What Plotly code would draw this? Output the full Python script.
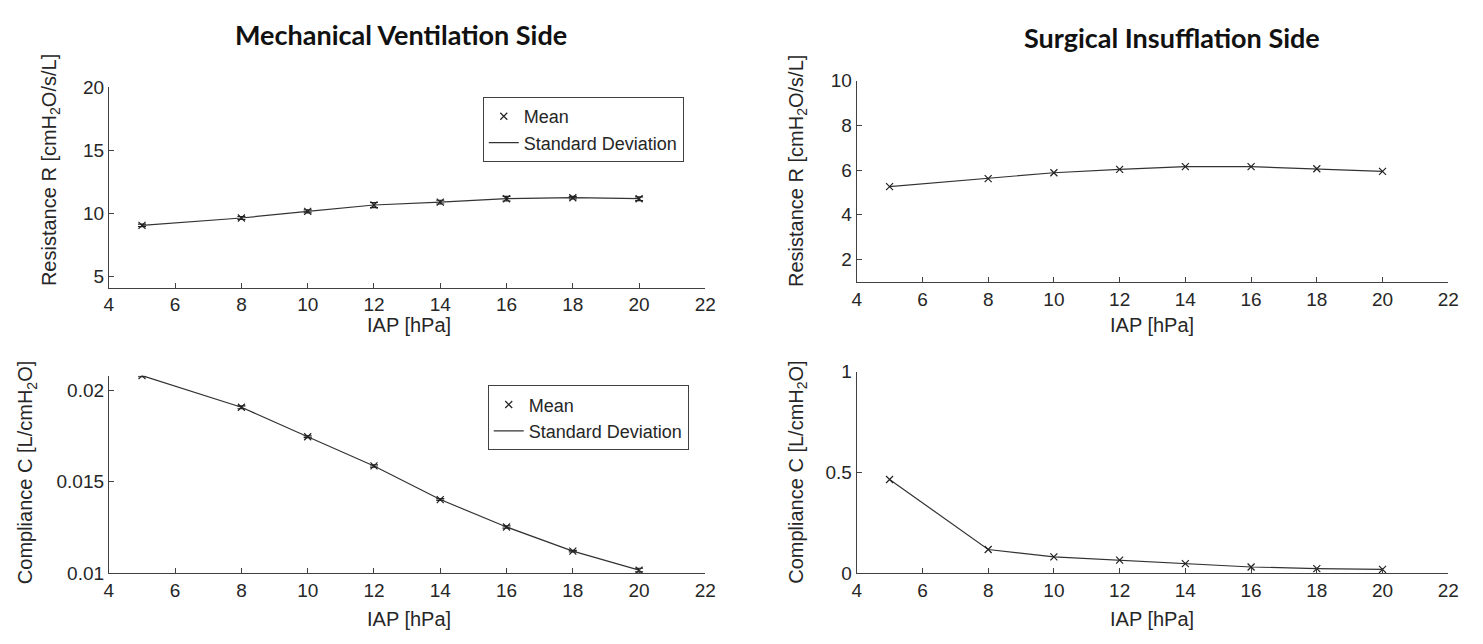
import plotly.graph_objects as go

# ---------------- data ----------------
iap = [5, 8, 10, 12, 14, 16, 18, 20]

mv_resistance = [9.05, 9.63, 10.16, 10.66, 10.89, 11.16, 11.24, 11.16]
mv_resistance_sd = [0.10, 0.12, 0.12, 0.20, 0.15, 0.18, 0.10, 0.15]

mv_compliance = [0.0208, 0.01907, 0.01746, 0.01586, 0.01402, 0.01252, 0.0112, 0.01016]
mv_compliance_sd = [0.00006, 0.00008, 0.00005, 0.00006, 0.00005, 0.00006, 0.00004, 0.0001]

si_resistance = [5.26, 5.62, 5.88, 6.03, 6.15, 6.15, 6.06, 5.94]
si_compliance = [0.465, 0.117, 0.080, 0.064, 0.047, 0.030, 0.022, 0.018]

x_ticks = [4, 6, 8, 10, 12, 14, 16, 18, 20, 22]
tl_yticks = [5, 10, 15, 20]
tr_yticks = [2, 4, 6, 8, 10]
bl_yticks = [0.01, 0.015, 0.02]
bl_yticklabels = ["0.01", "0.015", "0.02"]
br_yticks = [0, 0.5, 1]
br_yticklabels = ["0", "0.5", "1"]

# ---------------- layout helpers ----------------
W, H = 1483, 644
AX = "#404040"
TXT = "#262626"
LINE = "#333333"
FAM = "Liberation Sans, Arial, sans-serif"
TICKFONT = dict(family=FAM, size=19, color=TXT)


def px_x(p):
    return p / W


def px_y(p):
    return 1 - p / H


fig = go.Figure()

marker_style = dict(symbol="x-thin", size=7, line=dict(width=1.2, color="#222222"), color="#222222")

# Top-left: MV resistance
fig.add_trace(go.Scatter(
    x=iap, y=mv_resistance, mode="lines", name="Standard Deviation",
    line=dict(color=LINE, width=1.2),
    error_y=dict(type="data", array=mv_resistance_sd, visible=True, color="#222222", thickness=1.2, width=4),
    xaxis="x", yaxis="y", legend="legend", legendrank=2))
fig.add_trace(go.Scatter(
    x=iap, y=mv_resistance, mode="markers", name="Mean", marker=marker_style,
    xaxis="x", yaxis="y", legend="legend", legendrank=1))

# Top-right: SI resistance
fig.add_trace(go.Scatter(
    x=iap, y=si_resistance, mode="lines+markers", showlegend=False,
    line=dict(color=LINE, width=1.2), marker=marker_style,
    xaxis="x2", yaxis="y2"))

# Bottom-left: MV compliance
fig.add_trace(go.Scatter(
    x=iap, y=mv_compliance, mode="lines", name="Standard Deviation",
    line=dict(color=LINE, width=1.2),
    error_y=dict(type="data", array=mv_compliance_sd, visible=True, color="#222222", thickness=1.2, width=4),
    xaxis="x3", yaxis="y3", legend="legend2", legendrank=2))
fig.add_trace(go.Scatter(
    x=iap, y=mv_compliance, mode="markers", name="Mean", marker=marker_style,
    xaxis="x3", yaxis="y3", legend="legend2", legendrank=1))

# Bottom-right: SI compliance
fig.add_trace(go.Scatter(
    x=iap, y=si_compliance, mode="lines+markers", showlegend=False,
    line=dict(color=LINE, width=1.2), marker=marker_style,
    xaxis="x4", yaxis="y4"))


def xaxis(domain, anchor):
    return dict(domain=domain, anchor=anchor, range=[4, 22], tickvals=x_ticks,
                ticks="inside", ticklen=5, tickcolor=AX, showline=True, linecolor=AX,
                linewidth=1, showgrid=False, zeroline=False, tickfont=TICKFONT, mirror=False)


def yaxis(domain, anchor, rng, tickvals, ticktext=None):
    d = dict(domain=domain, anchor=anchor, range=rng, tickvals=tickvals,
             ticks="inside", ticklen=5, tickcolor=AX, showline=True, linecolor=AX,
             linewidth=1, showgrid=False, zeroline=False, tickfont=TICKFONT, mirror=False)
    if ticktext is not None:
        d["ticktext"] = ticktext
    return d


left_x = [px_x(105), px_x(708)]
right_x = [px_x(861), px_x(1459)]

legend_common = dict(xanchor="left", yanchor="top",
                     bordercolor=AX, borderwidth=1, bgcolor="white",
                     font=dict(family=FAM, size=18, color=TXT),
                     tracegroupgap=0, itemwidth=30)

fig.update_layout(
    width=W, height=H,
    margin=dict(l=0, r=0, t=0, b=0),
    paper_bgcolor="white", plot_bgcolor="white",
    xaxis=xaxis(left_x, "y"),
    yaxis=yaxis([px_y(287), px_y(80)], "x", [4.1, 20], tl_yticks),
    xaxis2=xaxis(right_x, "y2"),
    yaxis2=yaxis([px_y(281), px_y(73)], "x2", [1, 10], tr_yticks),
    xaxis3=xaxis(left_x, "y3"),
    yaxis3=yaxis([px_y(582), px_y(378)], "x3", [0.01, 0.0208], bl_yticks, bl_yticklabels),
    xaxis4=xaxis(right_x, "y4"),
    yaxis4=yaxis([px_y(582), px_y(374)], "x4", [0, 1], br_yticks, br_yticklabels),
    legend=dict(x=px_x(483), y=px_y(90), **legend_common),
    legend2=dict(x=px_x(488), y=px_y(388), **legend_common),
    showlegend=True,
)

ann_font = dict(family=FAM, size=20, color=TXT)
title_font = dict(family="Lato, Open Sans, sans-serif", size=27, color="#111111")

annotations = [
    dict(text="<b>Mechanical Ventilation Side</b>", x=px_x(400), y=px_y(25), font=title_font),
    dict(text="<b>Surgical Insufflation Side</b>", x=px_x(1180), y=px_y(28), font=title_font),
    dict(text="IAP [hPa]", x=px_x(408), y=px_y(326), font=ann_font),
    dict(text="IAP [hPa]", x=px_x(1160), y=px_y(326), font=ann_font),
    dict(text="IAP [hPa]", x=px_x(408), y=px_y(630), font=ann_font),
    dict(text="IAP [hPa]", x=px_x(1160), y=px_y(630), font=ann_font),
    dict(text="Resistance R [cmH<sub>2</sub>O/s/L]", x=px_x(46), y=px_y(166), textangle=-90, font=ann_font),
    dict(text="Resistance R [cmH<sub>2</sub>O/s/L]", x=px_x(801), y=px_y(166), textangle=-90, font=ann_font),
    dict(text="Compliance C [L/cmH<sub>2</sub>O]", x=px_x(22), y=px_y(478), textangle=-90, font=ann_font),
    dict(text="Compliance C [L/cmH<sub>2</sub>O]", x=px_x(801), y=px_y(478), textangle=-90, font=ann_font),
]
for a in annotations:
    a.update(xref="paper", yref="paper", showarrow=False, xanchor="center", yanchor="middle")
fig.update_layout(annotations=annotations)

fig.write_html("out.html")
